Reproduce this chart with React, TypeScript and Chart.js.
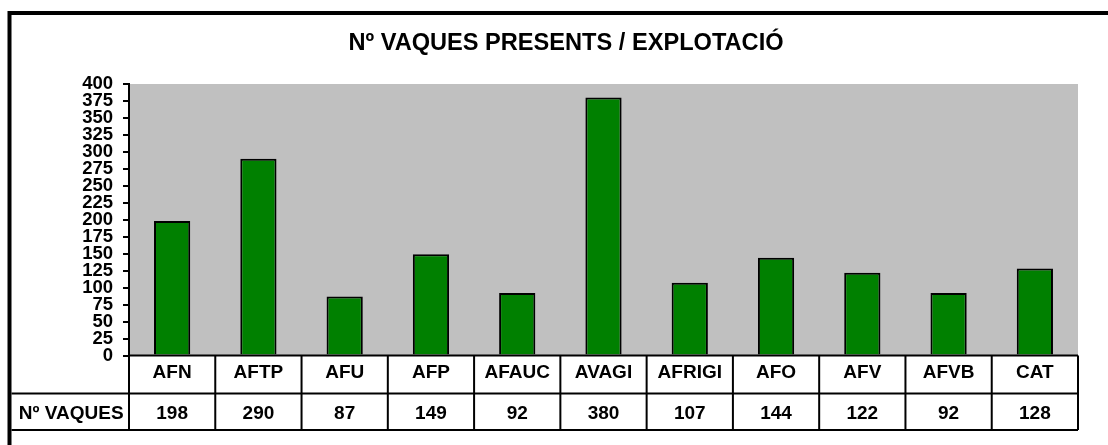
import React, { useEffect, useRef } from "react";
import { Chart, registerables } from "chart.js";

Chart.register(...registerables);

const categories = ["AFN", "AFTP", "AFU", "AFP", "AFAUC", "AVAGI", "AFRIGI", "AFO", "AFV", "AFVB", "CAT"];
const vaques = [198, 290, 87, 149, 92, 380, 107, 144, 122, 92, 128];
const seriesLabel = "Nº VAQUES";
const chartTitle = "Nº VAQUES PRESENTS / EXPLOTACIÓ";
const yMin = 0;
const yMax = 400;
const yStep = 25;

const FONT = "'Liberation Sans', Arial, sans-serif";
const LABEL_SIZE = 19;
const ROW1_H = 38;
const ROW2_H = 36.5;

const decor = {
  id: "decor",
  beforeDraw(chart: any) {
    const { ctx, chartArea: a } = chart;
    ctx.save();
    ctx.fillStyle = "#ffffff";
    ctx.fillRect(0, 0, chart.width, chart.height);
    ctx.fillStyle = "#C0C0C0";
    ctx.fillRect(a.left, a.top, a.right - a.left, a.bottom - a.top);
    ctx.restore();
  },
  afterDraw(chart: any) {
    const { ctx, chartArea: a } = chart;
    const xs = chart.scales.x;
    const n = categories.length;
    const half = (xs.getPixelForValue(1) - xs.getPixelForValue(0)) / 2;
    const frameX = 9.5;
    const frameY = 13;
    const cellLeft = 11.5;
    const top = a.bottom;
    const r1 = top + ROW1_H;
    const r2 = r1 + ROW2_H;

    ctx.save();
    ctx.strokeStyle = "#000";
    ctx.lineWidth = 4;
    ctx.beginPath();
    ctx.moveTo(frameX, chart.height + 5);
    ctx.lineTo(frameX, frameY);
    ctx.lineTo(chart.width + 5, frameY);
    ctx.stroke();

    ctx.fillStyle = "#000";
    ctx.font = `bold 23.6px ${FONT}`;
    ctx.textAlign = "center";
    ctx.textBaseline = "alphabetic";
    ctx.fillText(chartTitle, 566, 50);

    ctx.lineWidth = 2;
    ctx.beginPath();
    ctx.moveTo(a.left, top);
    ctx.lineTo(a.right, top);
    ctx.moveTo(cellLeft, r1);
    ctx.lineTo(a.right, r1);
    ctx.moveTo(cellLeft, r2);
    ctx.lineTo(a.right, r2);
    ctx.moveTo(a.left, top);
    ctx.lineTo(a.left, r2);
    for (let i = 0; i < n; i++) {
      const px = xs.getPixelForValue(i) + half;
      ctx.moveTo(px, top);
      ctx.lineTo(px, r2);
    }
    ctx.stroke();

    ctx.font = `bold ${LABEL_SIZE}px ${FONT}`;
    ctx.textAlign = "center";
    ctx.textBaseline = "alphabetic";
    const base = (r1 + r2) / 2 + 6.8;
    ctx.fillText(seriesLabel, (cellLeft + a.left) / 2 + 1, base);
    for (let i = 0; i < n; i++) {
      ctx.fillText(String(vaques[i]), xs.getPixelForValue(i), base);
    }
    ctx.restore();
  },
};

export default function App() {
  const ref = useRef<HTMLCanvasElement>(null);
  useEffect(() => {
    if (!ref.current) return;
    const chart = new Chart(ref.current, {
      type: "bar",
      data: {
        labels: categories,
        datasets: [
          {
            label: seriesLabel,
            data: vaques,
            backgroundColor: "#008000",
            borderColor: "#000000",
            borderWidth: 2,
            barPercentage: 0.42,
            categoryPercentage: 1,
          },
        ],
      },
      options: {
        animation: false,
        responsive: false,
        devicePixelRatio: 1,
        layout: { padding: { top: 84, right: 30, bottom: 445 - 355.5 - ROW1_H, left: 0 } },
        plugins: {
          legend: { display: false },
          title: { display: false },
          tooltip: { enabled: false },
        },
        scales: {
          x: {
            grid: { display: false, drawTicks: false },
            border: { display: false },
            ticks: {
              color: "#000",
              font: { family: FONT, size: LABEL_SIZE, weight: "bold" },
              padding: 6,
              maxRotation: 0,
              autoSkip: false,
            },
            afterFit: (s: any) => {
              s.height = ROW1_H;
            },
          },
          y: {
            min: yMin,
            max: yMax,
            grid: { display: true, drawOnChartArea: false, drawTicks: true, tickLength: 6, color: "#000", lineWidth: 2 },
            border: { display: true, color: "#000", width: 2 },
            ticks: {
              stepSize: yStep,
              autoSkip: false,
              color: "#000",
              padding: 10,
              font: { family: FONT, size: 18.5, weight: "bold" },
            },
            afterFit: (s: any) => {
              s.width = 129;
            },
          },
        },
      },
      plugins: [decor],
    });
    return () => chart.destroy();
  }, []);
  return (
    <div style={{ position: "absolute", left: 0, top: 0, width: 1108, height: 445 }}>
      <canvas ref={ref} width={1108} height={445} style={{ display: "block" }} />
    </div>
  );
}
